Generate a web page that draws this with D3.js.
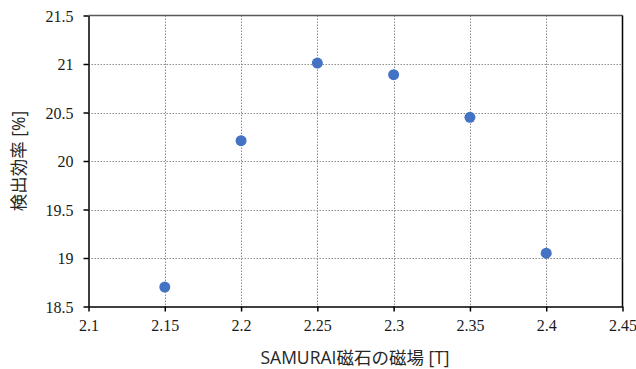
<!DOCTYPE html>
<html>
<head>
<meta charset="utf-8">
<script src="https://cdn.jsdelivr.net/npm/d3@7"></script>
<style>
  html, body { margin: 0; padding: 0; background: #fff; }
  svg { display: block; }
  .tick text { font-family: "Liberation Serif", "DejaVu Serif", serif; font-size: 16px; fill: #1a1a1a; }
</style>
</head>
<body>
<svg id="chart" width="636" height="369"></svg>
<script>
// Detection efficiency vs. SAMURAI magnet field
const fieldT = [2.15, 2.2, 2.25, 2.3, 2.35, 2.4];
const efficiency = [18.70, 20.21, 21.01, 20.89, 20.45, 19.05];
const xTicks = [2.1, 2.15, 2.2, 2.25, 2.3, 2.35, 2.4, 2.45];
const yTicks = [18.5, 19, 19.5, 20, 20.5, 21, 21.5];
const xTitle = "SAMURAI磁石の磁場 [T]";
const yTitle = "検出効率 [%]";

const svg = d3.select("#chart");
const m = { left: 88.5, right: 622.5, top: 15.5, bottom: 306.5 };

const x = d3.scaleLinear().domain([2.1, 2.45]).range([m.left, m.right]);
const y = d3.scaleLinear().domain([18.5, 21.5]).range([m.bottom, m.top]);

const titleFont = "Open Sans, Noto Sans CJK JP, sans-serif";

// grid
svg.append("g").selectAll("line").data(yTicks.slice(1, -1)).join("line")
  .attr("x1", m.left).attr("x2", m.right)
  .attr("y1", d => Math.round(y(d)) + 0.5).attr("y2", d => Math.round(y(d)) + 0.5)
  .attr("stroke", "#8c8c8c").attr("stroke-width", 1).attr("stroke-dasharray", "1.5,1.5");
svg.append("g").selectAll("line").data(xTicks.slice(1, -1)).join("line")
  .attr("y1", m.top).attr("y2", m.bottom)
  .attr("x1", d => Math.round(x(d)) + 0.5).attr("x2", d => Math.round(x(d)) + 0.5)
  .attr("stroke", "#8c8c8c").attr("stroke-width", 1).attr("stroke-dasharray", "1.5,1.5");

// frame: top and right
svg.append("line").attr("x1", m.left).attr("x2", m.right).attr("y1", m.top).attr("y2", m.top)
  .attr("stroke", "#595959").attr("stroke-width", 1.5);
svg.append("line").attr("x1", m.right).attr("x2", m.right).attr("y1", m.top).attr("y2", m.bottom)
  .attr("stroke", "#000").attr("stroke-width", 1.5);

// axes
const xAxis = svg.append("g").attr("transform", `translate(0,${m.bottom})`)
  .call(d3.axisBottom(x).tickValues(xTicks).tickFormat(d => String(d)).tickSizeInner(5).tickSizeOuter(0).tickPadding(8));
const yAxis = svg.append("g").attr("transform", `translate(${m.left},0)`)
  .call(d3.axisLeft(y).tickValues(yTicks).tickFormat(d => String(d)).tickSizeInner(5).tickSizeOuter(0).tickPadding(10));

[xAxis, yAxis].forEach(g => {
  g.attr("font-family", "Liberation Serif").attr("font-size", 16);
  g.select(".domain").attr("stroke", "#000").attr("stroke-width", 1.5);
  g.selectAll(".tick line").attr("stroke", "#000").attr("stroke-width", 1.5);
});
yAxis.selectAll(".tick text").attr("dy", "0.35em");

// points
svg.append("g").selectAll("circle").data(fieldT.map((f, i) => [f, efficiency[i]])).join("circle")
  .attr("cx", d => x(d[0])).attr("cy", d => y(d[1])).attr("r", 5.5)
  .attr("fill", "#4472c4");

// titles
svg.append("text").attr("x", 355).attr("y", 364).attr("text-anchor", "middle")
  .style("font-family", titleFont).style("font-size", "17.5px").attr("fill", "#262626")
  .text(xTitle);
svg.append("text").attr("transform", "translate(25,161) rotate(-90)").attr("text-anchor", "middle")
  .style("font-family", titleFont).style("font-size", "17.5px").attr("fill", "#262626")
  .text(yTitle);
</script>
</body>
</html>
